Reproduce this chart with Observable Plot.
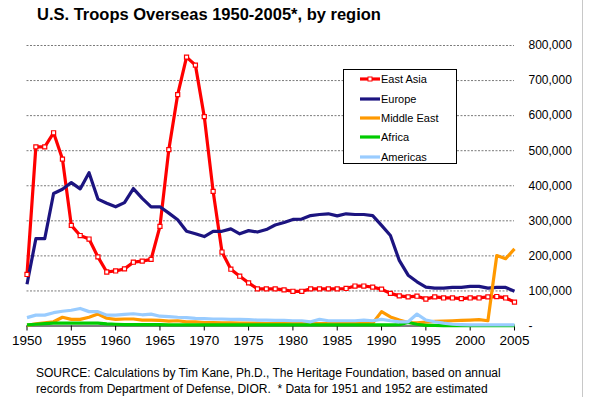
<!DOCTYPE html>
<html>
<head>
<meta charset="utf-8">
<script src="https://cdn.jsdelivr.net/npm/d3@7"></script>
<script src="https://cdn.jsdelivr.net/npm/@observablehq/plot@0.6"></script>
<style>
  html, body { margin: 0; padding: 0; background: #fff; }
  #wrap { position: relative; width: 590px; height: 397px; font-family: "Liberation Sans", Arial, sans-serif; overflow: hidden; background: #fff; }
  #title { position: absolute; left: 37px; top: 5.5px; font-size: 16.5px; font-weight: bold; line-height: 1; white-space: nowrap; color: #000; }
  #chart { position: absolute; left: 0; top: 0; }
  #legend { position: absolute; left: 343px; top: 69px; width: 114px; height: 95px; border: 1px solid #000; background: #fff; box-sizing: border-box; }
  .lg { position: absolute; left: 16px; height: 14px; display: flex; align-items: center; font-size: 11px; white-space: nowrap; }
  .lg svg { margin-right: 1px; }
  #source { position: absolute; left: 36px; top: 365px; font-size: 12px; line-height: 16px; white-space: nowrap; color: #000; }
  #edge { position: absolute; left: 582px; top: 0; width: 1px; height: 397px; background: #c8c8c8; }
</style>
</head>
<body>
<div id="wrap">
  <div id="chart"></div>
  <div id="title">U.S. Troops Overseas 1950-2005*, by region</div>
  <div id="legend"></div>
  <div id="source">SOURCE: Calculations by Tim Kane, Ph.D., The Heritage Foundation, based on annual<br>records from Department of Defense, DIOR.&nbsp; * Data for 1951 and 1952 are estimated</div>
  <div id="edge"></div>
</div>
<script>
const years = [1950,1951,1952,1953,1954,1955,1956,1957,1958,1959,
  1960,1961,1962,1963,1964,1965,1966,1967,1968,1969,
  1970,1971,1972,1973,1974,1975,1976,1977,1978,1979,
  1980,1981,1982,1983,1984,1985,1986,1987,1988,1989,
  1990,1991,1992,1993,1994,1995,1996,1997,1998,1999,
  2000,2001,2002,2003,2004,2005];

const seriesNames = ["East Asia", "Europe", "Middle East", "Africa", "Americas"];
const seriesColors = ["#ff0000", "#1c1480", "#ff9900", "#00cc00", "#99ccff"];

const eastAsia = [147000,511000,511000,551000,476000,287000,258000,248000,197000,154000,
  157000,163000,182000,185000,190000,284000,503000,660000,767000,744000,
  597000,384000,211000,162000,142000,123000,106000,106000,106000,103000,
  99000,99000,106000,106000,106000,106000,107000,114000,114000,111000,
  105000,93000,86000,83000,85000,77000,83000,80000,80000,78000,
  80000,80000,83000,84000,80000,68000];

const europe = [119000,249000,249000,378000,390000,409000,391000,437000,362000,350000,
  340000,352000,392000,364000,340000,340000,322000,303000,270000,263000,
  255000,270000,270000,277000,263000,272000,268000,275000,288000,295000,
  304000,305000,315000,318000,320000,314000,320000,318000,318000,315000,
  287000,258000,187000,145000,126000,111000,108000,108000,110000,110000,
  113000,113000,108000,110000,110000,99000];

const middleEast = [2000,6000,9000,12000,25000,19000,19000,25000,34000,22000,
  19000,20000,20000,17000,17000,16000,14000,15000,12000,12000,
  10000,10000,9000,9000,8000,8000,8000,7000,7000,7000,
  7000,8000,7000,7000,7000,7000,7000,7000,7000,8000,
  41000,26000,17000,10000,9000,11000,13000,14000,15000,16000,
  17000,18000,15000,201000,192000,220000];

const africa = [3000,5000,7000,8000,8000,8000,8000,8000,8000,6000,
  5000,4000,4000,4000,4000,4000,3000,3000,3000,3000,
  3000,3000,3000,3000,3000,3000,3000,3000,3000,3000,
  3000,3000,3000,3000,3000,3000,3000,3000,3000,3000,
  3000,3000,4000,10000,5000,2000,2000,1000,1000,1000,
  1000,1000,1000,1000,1000,1000];

const americas = [24000,31000,31000,38000,42000,45000,50000,41000,41000,31000,
  31000,33000,35000,32000,34000,28000,27000,25000,24000,22000,
  21000,20000,20000,19000,19000,18000,17000,17000,16000,16000,
  15000,15000,12000,19000,15000,15000,15000,15000,17000,15000,
  19000,15000,12000,12000,34000,17000,12000,8000,5000,4000,
  3000,3000,3000,3000,3000,3000];

const xTicks = [1950,1955,1960,1965,1970,1975,1980,1985,1990,1995,2000,2005];
const yTicks = [0,100000,200000,300000,400000,500000,600000,700000,800000];

const allSeries = [eastAsia, europe, middleEast, africa, americas];
const rows = [];
allSeries.forEach((vals, si) => {
  vals.forEach((v, i) => rows.push({region: seriesNames[si], year: years[i], value: v}));
});

const fmt = d3.format(",");
const lineMarks = seriesNames.map((name, si) =>
  Plot.lineY(rows.filter(r => r.region === name), {
    x: "year", y: "value", stroke: seriesColors[si], strokeWidth: 3.2,
    strokeLinejoin: "round", strokeLinecap: "butt"
  })
);

const chart = Plot.plot({
  width: 590,
  height: 397,
  marginTop: 45,
  marginBottom: 71.5,
  marginLeft: 26.5,
  marginRight: 76,
  style: { fontFamily: "Liberation Sans, Arial, sans-serif", background: "transparent", color: "#000" },
  x: { domain: [1950, 2005] },
  y: { domain: [0, 800000] },
  marks: [
    Plot.ruleY(yTicks.filter(d => d > 0), { stroke: "#7a7a7a", strokeWidth: 1, strokeDasharray: "2,1.5" }),
    Plot.axisY(yTicks, {
      anchor: "right", tickSize: 0, tickPadding: 14, textAnchor: "start",
      tickFormat: d => d === 0 ? "-" : fmt(d), fontSize: 12, label: null, fill: "#000"
    }),
    Plot.axisX(xTicks, {
      anchor: "bottom", tickSize: 5, tickPadding: 4, tickFormat: d => String(d),
      fontSize: 13.5, label: null, stroke: "#000", fill: "#000"
    }),
    Plot.ruleY([0], { stroke: "#000", strokeWidth: 1.2 }),
    ...lineMarks,
    Plot.dot(rows.filter(r => r.region === "East Asia"), {
      x: "year", y: "value", symbol: "square", r: 2.3, fill: "#fff", stroke: "#ff0000", strokeWidth: 1.2
    })
  ]
});
document.getElementById("chart").appendChild(chart);

// legend
const legend = document.getElementById("legend");
const rowTops = [2, 22, 41, 60, 80];
seriesNames.forEach((name, si) => {
  const div = document.createElement("div");
  div.className = "lg";
  div.style.top = rowTops[si] + "px";
  const marker = si === 0
    ? `<rect x="8" y="5" width="4" height="4" fill="#fff" stroke="${seriesColors[si]}" stroke-width="1"/>`
    : "";
  div.innerHTML = `<svg width="20" height="14"><line x1="0" x2="20" y1="7" y2="7" stroke="${seriesColors[si]}" stroke-width="3.2"/>${marker}</svg><span>${name}</span>`;
  legend.appendChild(div);
});
</script>
</body>
</html>
